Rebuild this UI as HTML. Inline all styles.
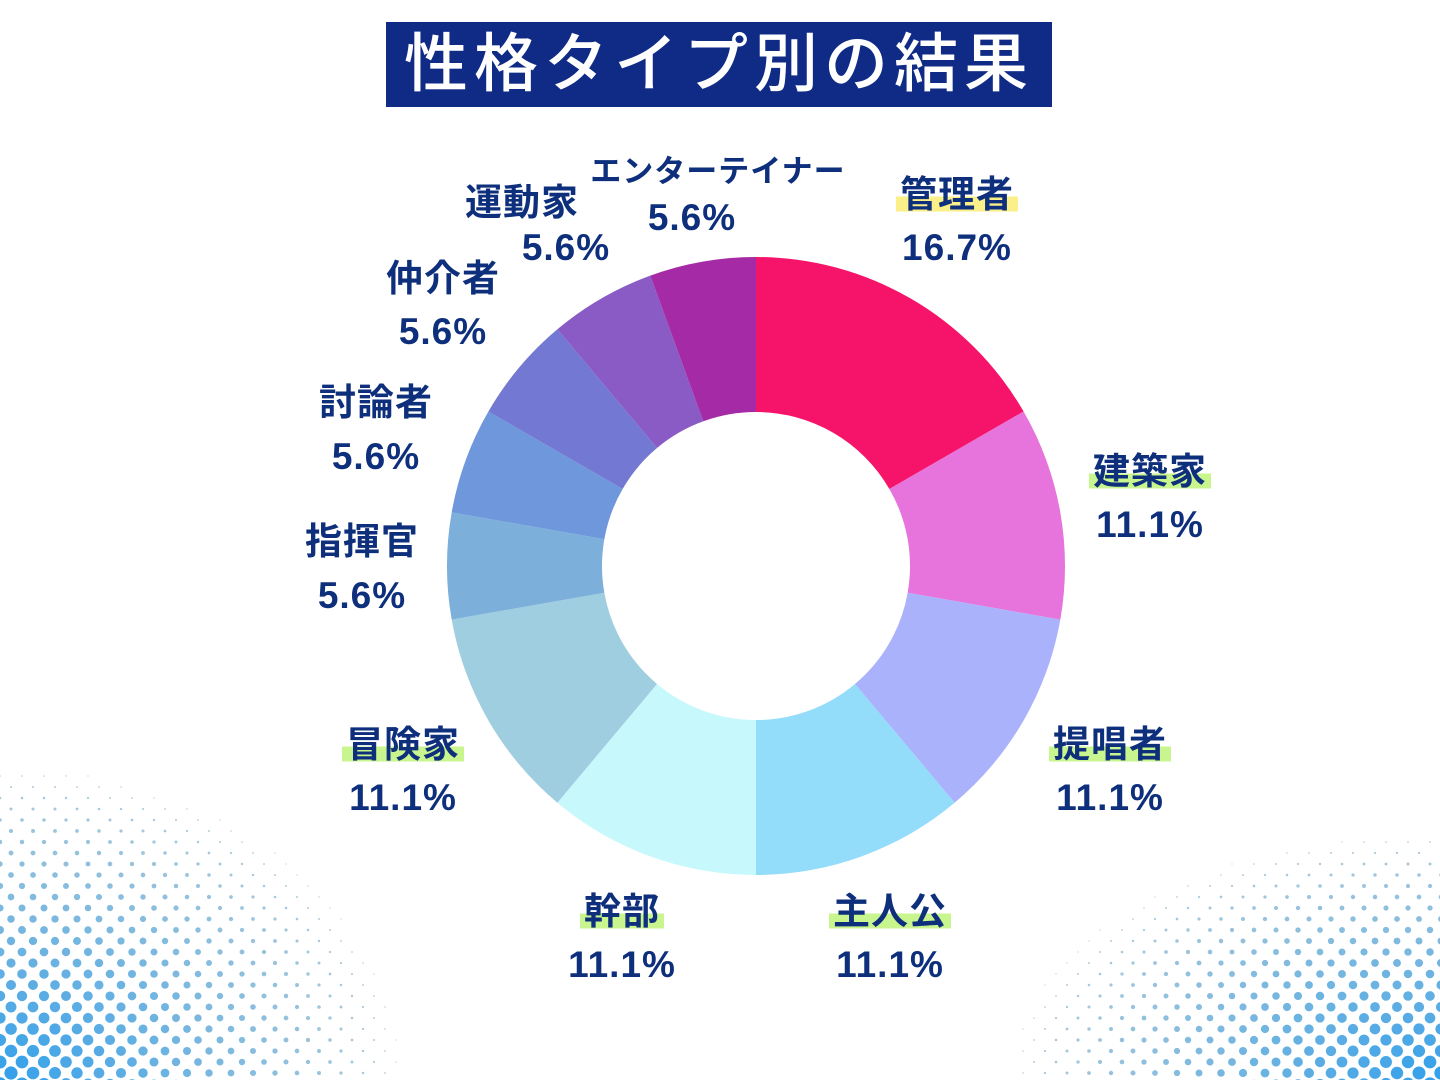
<!DOCTYPE html>
<html><head><meta charset="utf-8">
<style>
body{margin:0;width:1440px;height:1080px;background:#fff;position:relative;overflow:hidden;font-family:"Liberation Sans","Noto Sans CJK JP",sans-serif;}
#bg{position:absolute;left:0;top:0}
.title{position:absolute;left:386px;top:22px;width:666px;height:85px;background:#0f2b86;color:#fff;font-size:64px;line-height:85px;text-align:center;letter-spacing:6px;font-weight:500}
.lb{position:absolute;color:#0e2f7c;font-weight:bold;font-size:37px;line-height:40px;transform:translate(-50%,-50%);white-space:nowrap;letter-spacing:1px}
.hl{background:linear-gradient(to bottom,transparent 55%,#c9f58e 55%,#c9f58e 92%,transparent 92%);padding:0 4px}
.hy{background:linear-gradient(to bottom,transparent 55%,#fbef8a 55%,#fbef8a 92%,transparent 92%);padding:0 4px}
</style></head><body>
<svg id="bg" width="1440" height="1080"></svg>
<div class="title">性格タイプ別の結果</div>
<svg style="position:absolute;left:0;top:0" width="1440" height="1080" id="pie"></svg>
<div class="lb" style="left:957px;top:195px"><span class="hy">管理者</span></div>
<div class="lb" style="left:957px;top:248px">16.7%</div>
<div class="lb" style="left:1150px;top:472px"><span class="hl">建築家</span></div>
<div class="lb" style="left:1150px;top:525px">11.1%</div>
<div class="lb" style="left:1110px;top:745px"><span class="hl">提唱者</span></div>
<div class="lb" style="left:1110px;top:798px">11.1%</div>
<div class="lb" style="left:890px;top:912px"><span class="hl">主人公</span></div>
<div class="lb" style="left:890px;top:965px">11.1%</div>
<div class="lb" style="left:622px;top:912px"><span class="hl">幹部</span></div>
<div class="lb" style="left:622px;top:965px">11.1%</div>
<div class="lb" style="left:403px;top:745px"><span class="hl">冒険家</span></div>
<div class="lb" style="left:403px;top:798px">11.1%</div>
<div class="lb" style="left:362px;top:542px">指揮官</div>
<div class="lb" style="left:362px;top:596px">5.6%</div>
<div class="lb" style="left:376px;top:403px">討論者</div>
<div class="lb" style="left:376px;top:457px">5.6%</div>
<div class="lb" style="left:443px;top:279px">仲介者</div>
<div class="lb" style="left:443px;top:332px">5.6%</div>
<div class="lb" style="left:522px;top:203px">運動家</div>
<div class="lb" style="left:566px;top:248px">5.6%</div>
<div class="lb" style="left:718px;top:172px;font-size:31px">エンターテイナー</div>
<div class="lb" style="left:692px;top:218px">5.6%</div>
<script>
var bg=document.getElementById('bg'),s='';
for(var row=0;row<120;row++){var y=1080-row*11+4;var off=(row%2)*11;
 for(var x=off;x<=1450;x+=22){
  var d1=Math.sqrt(Math.pow(x/430,2)+Math.pow((1080-y)/335,2));
  var d2=Math.sqrt(Math.pow((1440-x)/460,2)+Math.pow((1080-y)/265,2));
  var d=Math.min(d1,d2);
  if(d<1){var r=6.8*Math.pow(1-d,0.9);if(r<0.6)continue;
   var t=r/6.8;var c='rgb('+Math.round(120-70*t)+','+Math.round(165-5*t)+','+Math.round(190+45*t)+')';
   s+='<circle cx="'+x+'" cy="'+y+'" r="'+r.toFixed(2)+'" fill="'+c+'" opacity="'+(0.5+0.5*t).toFixed(2)+'"/>';}
 }}
bg.innerHTML=s;
var cx=756,cy=566,R=309,r=154;
var segs=[[60,'#f5146a'],[40,'#e674dc'],[40,'#aab2fb'],[40,'#93dcfa'],[40,'#c6f8fc'],[40,'#a0cee1'],[20,'#7cb0db'],[20,'#6f97dc'],[20,'#7379d3'],[20,'#8a5bc5'],[20,'#a52aa6']];
var a=0,p='';
function pt(rad,ang){var t=(ang-90)*Math.PI/180;return (cx+rad*Math.cos(t)).toFixed(2)+' '+(cy+rad*Math.sin(t)).toFixed(2);}
segs.forEach(function(g){var b=a+g[0];var la=g[0]>180?1:0;
 p+='<path d="M'+pt(R,a)+' A'+R+' '+R+' 0 '+la+' 1 '+pt(R,b)+' L'+pt(r,b)+' A'+r+' '+r+' 0 '+la+' 0 '+pt(r,a)+'Z" fill="'+g[1]+'"/>';a=b;});
document.getElementById('pie').innerHTML=p;
</script>
</body></html>
